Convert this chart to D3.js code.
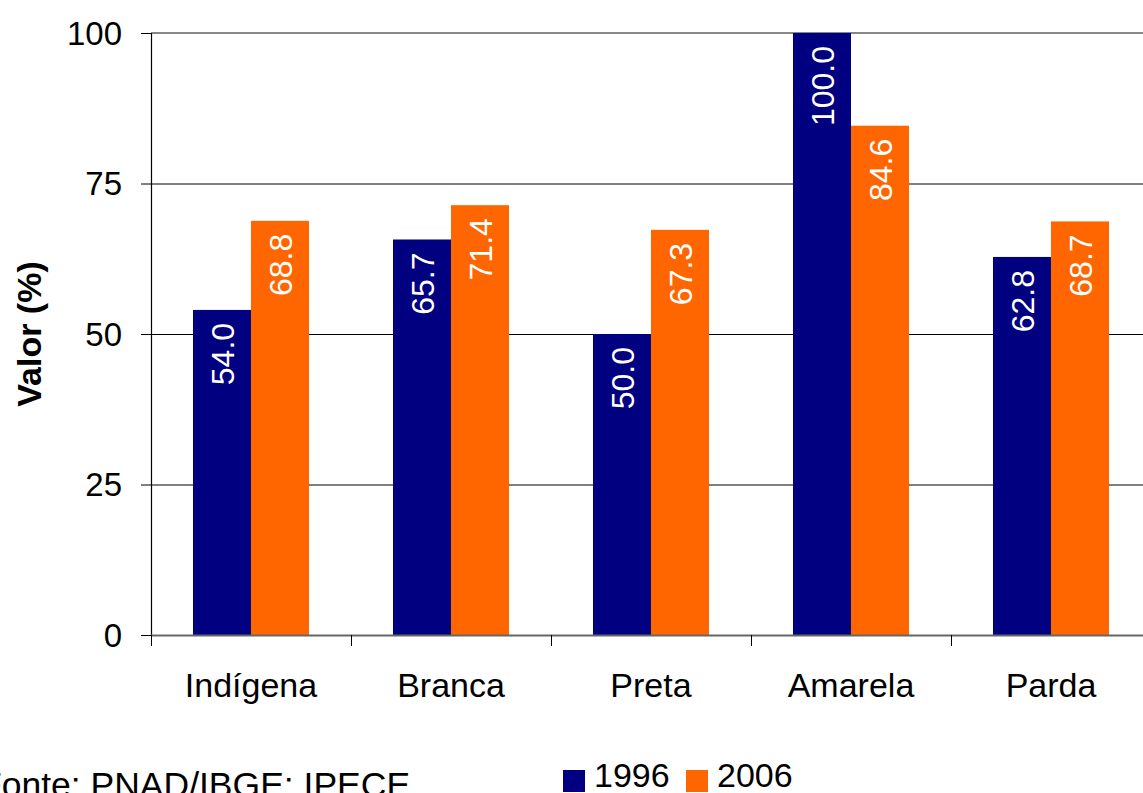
<!DOCTYPE html>
<html>
<head>
<meta charset="utf-8">
<script src="https://cdn.jsdelivr.net/npm/d3@7/dist/d3.min.js"></script>
<style>
  html, body { margin: 0; padding: 0; background: #fff; overflow: hidden; }
  svg { display: block; font-family: Arial, "Liberation Sans", sans-serif; }
</style>
</head>
<body>
<svg id="chart" width="1143" height="793"></svg>
<script>
// Share by colour/race group, 1996 vs 2006
const categories = ["Indígena", "Branca", "Preta", "Amarela", "Parda"];
const seriesNames = ["1996", "2006"];
const values1996 = [54.0, 65.7, 50.0, 100.0, 62.8];
const values2006 = [68.8, 71.4, 67.3, 84.6, 68.7];
const yTicks = [0, 25, 50, 75, 100];
const colors = ["#000080", "#FF6600"];

const seriesValues = [values1996, values2006];
const svg = d3.select("#chart");

const plot = { left: 151, right: 1151, top: 33, bottom: 635 };

const x0 = d3.scaleBand().domain(categories).range([plot.left, plot.right]).padding(0);
const x1 = d3.scaleBand().domain(seriesNames).range([42, 158]).padding(0);
const y = d3.scaleLinear().domain([0, 100]).range([plot.bottom, plot.top]);

// horizontal gridlines
svg.append("g").selectAll("line")
  .data(yTicks.filter(t => t > 0 && t < 100))
  .join("line")
  .attr("x1", plot.left).attr("x2", 1143)
  .attr("y1", d => y(d) + 0.5).attr("y2", d => y(d) + 0.5)
  .attr("stroke", "#000").attr("stroke-width", 1);

// top border of plot area
svg.append("line")
  .attr("x1", plot.left).attr("x2", 1143)
  .attr("y1", y(100)).attr("y2", y(100))
  .attr("stroke", "#888").attr("stroke-width", 2);

// bars
const groups = svg.append("g").selectAll("g")
  .data(categories)
  .join("g")
  .attr("transform", d => `translate(${x0(d)},0)`);

groups.selectAll("rect")
  .data((d, i) => seriesNames.map((s, j) => ({ s, v: seriesValues[j][i], c: colors[j] })))
  .join("rect")
  .attr("x", d => x1(d.s))
  .attr("width", x1.bandwidth())
  .attr("y", d => y(d.v))
  .attr("height", d => y(0) - y(d.v))
  .attr("fill", d => d.c);

// value labels, rotated inside the top of each bar
groups.selectAll("text")
  .data((d, i) => seriesNames.map((s, j) => ({ s, v: seriesValues[j][i] })))
  .join("text")
  .attr("transform", d => `translate(${x1(d.s) + x1.bandwidth() / 2},${y(d.v) + 13}) rotate(-90)`)
  .attr("text-anchor", "end")
  .attr("dy", "0.36em")
  .attr("fill", "#fff")
  .attr("font-size", 32)
  .text(d => d.v.toFixed(1));

// y axis
const yAxis = svg.append("g");
yAxis.append("line")
  .attr("x1", plot.left + 0.5).attr("x2", plot.left + 0.5)
  .attr("y1", plot.top).attr("y2", plot.bottom)
  .attr("stroke", "#000").attr("stroke-width", 1.2);
yAxis.selectAll("line.tick")
  .data(yTicks)
  .join("line")
  .attr("class", "tick")
  .attr("x1", plot.left - 10).attr("x2", plot.left)
  .attr("y1", d => y(d) + 0.5).attr("y2", d => y(d) + 0.5)
  .attr("stroke", "#000");
yAxis.selectAll("text")
  .data(yTicks)
  .join("text")
  .attr("x", 122)
  .attr("y", d => y(d))
  .attr("dy", "0.36em")
  .attr("text-anchor", "end")
  .attr("font-size", 33)
  .attr("fill", "#000")
  .text(d => d);

// x axis
const xAxis = svg.append("g");
xAxis.append("line")
  .attr("x1", plot.left).attr("x2", 1143)
  .attr("y1", plot.bottom + 0.5).attr("y2", plot.bottom + 0.5)
  .attr("stroke", "#666").attr("stroke-width", 2);
xAxis.selectAll("line.tick")
  .data(categories)
  .join("line")
  .attr("class", "tick")
  .attr("x1", d => x0(d) + 0.5).attr("x2", d => x0(d) + 0.5)
  .attr("y1", plot.bottom).attr("y2", plot.bottom + 11)
  .attr("stroke", "#000");
xAxis.selectAll("text")
  .data(categories)
  .join("text")
  .attr("x", d => x0(d) + x0.bandwidth() / 2)
  .attr("y", 697)
  .attr("text-anchor", "middle")
  .attr("font-size", 34)
  .attr("fill", "#000")
  .text(d => d);

// y axis title
svg.append("text")
  .attr("transform", "translate(29,334) rotate(-90)")
  .attr("text-anchor", "middle")
  .attr("dy", "0.36em")
  .attr("font-size", 34)
  .attr("font-weight", "bold")
  .text("Valor (%)");

// legend
const legend = svg.append("g");
const legendX = [563, 686];
seriesNames.forEach((s, i) => {
  legend.append("rect")
    .attr("x", legendX[i]).attr("y", 770)
    .attr("width", 22).attr("height", 22)
    .attr("fill", colors[i]);
  legend.append("text")
    .attr("x", legendX[i] + 31).attr("y", 787)
    .attr("font-size", 34)
    .text(s);
});

// source note
svg.append("text")
  .attr("x", -20).attr("y", 797)
  .attr("font-size", 35.5)
  .text("Fonte: PNAD/IBGE; IPECE");
</script>
</body>
</html>
